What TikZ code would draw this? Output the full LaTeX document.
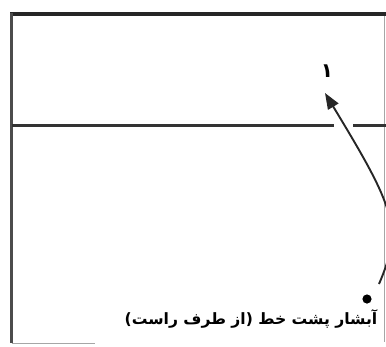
\documentclass[tikz,border=0pt]{standalone}
\usepackage{fontspec}
\usetikzlibrary{arrows.meta}
\TeXXeTstate=1
\newfontfamily\arabicfont[Script=Arabic]{DejaVu Sans}
\begin{document}
\begin{tikzpicture}[x=1pt,y=-1pt,
  thickline/.style={line width=3.4pt,draw=black!85},
  midline/.style={line width=2.8pt,draw=black!80},
  sideline/.style={line width=2.4pt,draw=black!70},
  thinline/.style={line width=1pt,draw=black!35},
  curvearrow/.style={line width=1.9pt,draw=black!85,-{Triangle[length=16pt,width=12pt]}},
  labeltext/.style={font=\arabicfont\bfseries\fontsize{15.6}{18}\selectfont,inner sep=0pt},
  numtext/.style={font=\arabicfont\bfseries\fontsize{20}{22}\selectfont,inner sep=0pt}]
\useasboundingbox (0,0) rectangle (386,346);
\fill[white] (0,0) rectangle (386,346);
% frame lines
\coordinate (tl) at (10,14);
\coordinate (tr) at (386,14);
\coordinate (bl) at (11.5,343);
\coordinate (br) at (95,343);
\coordinate (ml) at (11.5,125.5);
\coordinate (mg1) at (334,125.5);
\coordinate (mg2) at (353,125.5);
\coordinate (mr) at (386,125.5);
\coordinate (rt) at (384.5,14);
\coordinate (rb) at (384.5,342);
\draw[thinline] (rt) -- (rb);
\draw[thinline] (bl) -- (br);
\draw[thickline] (tl) -- (tr);
\draw[sideline] (11.5,13) -- (bl);
\draw[midline] (ml) -- (mg1);
\draw[midline] (mg2) -- (mr);
% label 1
\node[numtext] (one) at (327,71) {۱};
% arrow
\coordinate (start) at (379,284);
\coordinate (tip) at (325,93);
\begin{scope}
\clip (0,0) rectangle (386,346);
\draw[curvearrow] (start) .. controls (403,228) and (395,208.5) .. (tip);
\end{scope}
\fill[black] (367,299) circle (4.6pt);
\node[labeltext] (cap) at (251,318.5) {\beginR آبشار پشت خط (از طرف راست)\endR};
\end{tikzpicture}
\end{document}
